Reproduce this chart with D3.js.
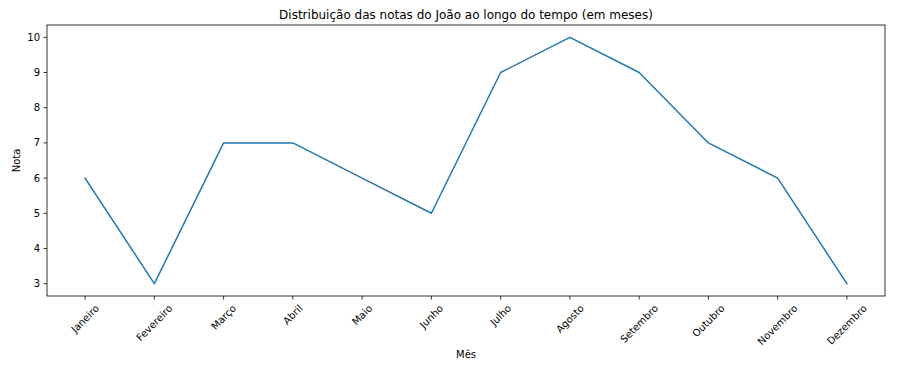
<!DOCTYPE html>
<html>
<head>
<meta charset="utf-8">
<script src="https://cdn.jsdelivr.net/npm/d3@7"></script>
<style>
  body { margin: 0; background: #fff; }
  text { font-family: "DejaVu Sans", sans-serif; fill: #000; }
</style>
</head>
<body>
<svg id="chart" width="907" height="373"></svg>
<script>
const months = ['Janeiro', 'Fevereiro', 'Março', 'Abril', 'Maio', 'Junho', 'Julho', 'Agosto', 'Setembro', 'Outubro', 'Novembro', 'Dezembro'];
const notas = [6, 3, 7, 7, 6, 5, 9, 10, 9, 7, 6, 3];
const yTicks = [3, 4, 5, 6, 7, 8, 9, 10];

const svg = d3.select('#chart');
const axL = 47, axR = 885, axT = 25, axB = 296;

// matplotlib style 5% margins
const x = d3.scaleLinear().domain([-0.55, 11.55]).range([axL, axR]);
const y = d3.scaleLinear().domain([2.65, 10.35]).range([axB, axT]);

const g = svg.append('g');

// line
const line = d3.line().x((d, i) => x(i)).y((d) => y(d));
g.append('path')
  .datum(notas)
  .attr('fill', 'none')
  .attr('stroke', '#1f77b4')
  .attr('stroke-width', 1.5)
  .attr('stroke-linejoin', 'round')
  .attr('stroke-linecap', 'square')
  .attr('d', line);

// frame
g.append('rect')
  .attr('x', axL).attr('y', axT)
  .attr('width', axR - axL).attr('height', axB - axT)
  .attr('fill', 'none').attr('stroke', '#000').attr('stroke-width', 0.8);

// y ticks
const yt = g.selectAll('.ytick').data(yTicks).join('g')
  .attr('class', 'ytick')
  .attr('transform', (d) => `translate(${axL},${y(d)})`);
yt.append('line').attr('x1', 0).attr('x2', -3.5).attr('stroke', '#000').attr('stroke-width', 0.8);
yt.append('text')
  .attr('x', -7).attr('dy', '0.35em')
  .attr('text-anchor', 'end').attr('font-size', 10)
  .text((d) => d);

// x ticks
const xt = g.selectAll('.xtick').data(months).join('g')
  .attr('class', 'xtick')
  .attr('transform', (d, i) => `translate(${x(i)},${axB})`);
xt.append('line').attr('y1', 0).attr('y2', 3.5).attr('stroke', '#000').attr('stroke-width', 0.8);
xt.append('text')
  .attr('text-anchor', 'middle').attr('dy', '0.35em').attr('font-size', 10)
  .text((d) => d)
  .attr('transform', function () {
    const w = this.getComputedTextLength();
    const h = 10;
    const cy = 7 + (w + h) * Math.SQRT1_2 / 2;
    return `translate(0,${cy}) rotate(-45)`;
  });

// title and axis labels
svg.append('text')
  .attr('x', (axL + axR) / 2).attr('y', 19)
  .attr('text-anchor', 'middle').attr('font-size', 12)
  .text('Distribuição das notas do João ao longo do tempo (em meses)');

svg.append('text')
  .attr('x', (axL + axR) / 2).attr('y', 358)
  .attr('text-anchor', 'middle').attr('font-size', 10)
  .text('Mês');

svg.append('text')
  .attr('transform', `translate(20,${(axT + axB) / 2}) rotate(-90)`)
  .attr('text-anchor', 'middle').attr('font-size', 10)
  .text('Nota');
</script>
</body>
</html>
